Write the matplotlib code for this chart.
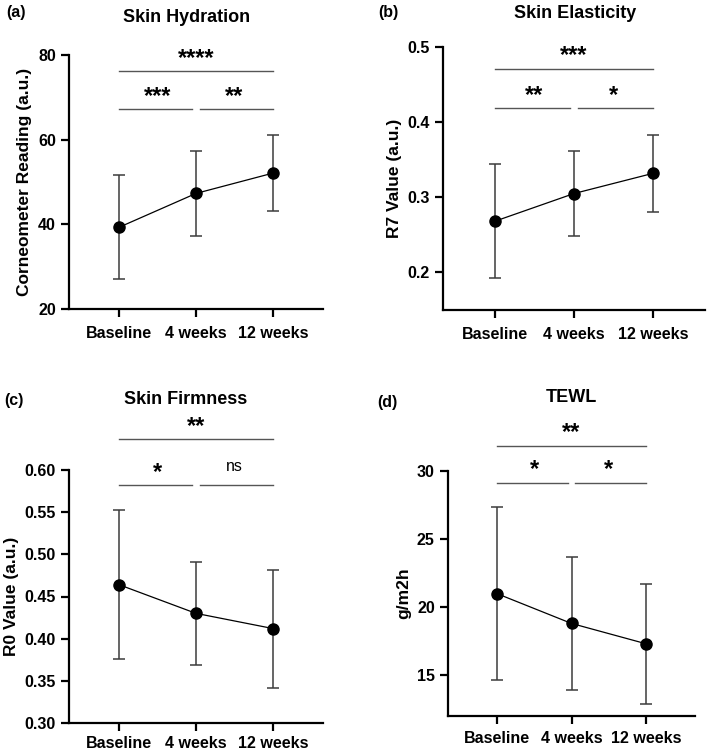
import numpy as np
import matplotlib
matplotlib.use("Agg")
import matplotlib.pyplot as plt

plt.rcParams["font.family"] = ["Liberation Sans", "DejaVu Sans"]

groups = ["Baseline", "4 weeks", "12 weeks"]

titles = ["Skin Hydration", "Skin Elasticity", "Skin Firmness", "TEWL"]
panel_labels = ["(a)", "(b)", "(c)", "(d)"]
ylabels = ["Corneometer Reading (a.u.)", "R7 Value (a.u.)", "R0 Value (a.u.)", "g/m2h"]

hydration_mean = [39.3, 47.3, 52.1]
hydration_sd = [12.3, 10.1, 9.0]
elasticity_mean = [0.268, 0.305, 0.332]
elasticity_sd = [0.076, 0.056, 0.051]
firmness_mean = [0.464, 0.430, 0.412]
firmness_sd = [0.088, 0.061, 0.070]
tewl_mean = [21.0, 18.8, 17.3]
tewl_sd = [6.35, 4.9, 4.4]

# significance labels: (start, end, label)
hydration_sig = [(0, 2, "****"), (0, 1, "***"), (1, 2, "**")]
elasticity_sig = [(0, 2, "***"), (0, 1, "**"), (1, 2, "*")]
firmness_sig = [(0, 2, "**"), (0, 1, "*"), (1, 2, "ns")]
tewl_sig = [(0, 2, "**"), (0, 1, "*"), (1, 2, "*")]

# bracket heights (data units): top bracket, lower brackets
hydration_bh = [76.2, 67.2]
elasticity_bh = [0.471, 0.419]
firmness_bh = [0.637, 0.582]
tewl_bh = [31.86, 29.14]

ylims = [(20, 80), (0.15, 0.5), (0.30, 0.60), (12, 30)]
yticks = [[20, 40, 60, 80], [0.2, 0.3, 0.4, 0.5],
          [0.30, 0.35, 0.40, 0.45, 0.50, 0.55, 0.60], [15, 20, 25, 30]]
yfmt = ["{:.0f}", "{:.1f}", "{:.2f}", "{:.0f}"]

means = [hydration_mean, elasticity_mean, firmness_mean, tewl_mean]
sds = [hydration_sd, elasticity_sd, firmness_sd, tewl_sd]
sigs = [hydration_sig, elasticity_sig, firmness_sig, tewl_sig]
bhs = [hydration_bh, elasticity_bh, firmness_bh, tewl_bh]

W, H = 709, 753
# axes rect in pixels: left, top, right, bottom
rects = [(69, 55, 323, 309), (443, 47, 705, 310),
         (69, 470, 323, 723), (448, 471, 695, 716)]
title_pos = [(187, 17), (575, 14), (186, 399), (571, 398)]
label_pos = [(6, 12), (378, 12), (4, 401), (377, 403)]
xpads = [6, 6, 3.5, 4.5]

fig = plt.figure(figsize=(W / 100, H / 100), dpi=100)

x = np.arange(len(groups))
for i in range(4):
    l, t, r, b = rects[i]
    ax = fig.add_axes([l / W, 1 - b / H, (r - l) / W, (b - t) / H])
    ax.errorbar(x, means[i], yerr=sds[i], fmt="none", ecolor="#3c3c3c",
                elinewidth=1.1, capsize=4.5, capthick=1.1, zorder=2)
    ax.plot(x, means[i], color="black", lw=0.9, marker="o", ms=8, zorder=3)
    ax.set_xlim(-0.65, 2.65)
    ax.set_ylim(*ylims[i])
    ax.set_yticks(yticks[i])
    ax.set_yticklabels([yfmt[i].format(v) for v in yticks[i]])
    ax.set_xticks(x)
    ax.set_xticklabels(groups)
    for s in ["top", "right"]:
        ax.spines[s].set_visible(False)
    for s in ["left", "bottom"]:
        ax.spines[s].set_linewidth(1.6)
    ax.tick_params(axis="both", width=1.6, length=6, labelsize=11.5)
    ax.tick_params(axis="x", pad=xpads[i])
    for lab in ax.get_xticklabels() + ax.get_yticklabels():
        lab.set_fontweight("bold")
    ax.set_ylabel(ylabels[i], fontsize=12.5, fontweight="bold", labelpad=4)

    span = ylims[i][1] - ylims[i][0]
    for j, (s0, s1, txt) in enumerate(sigs[i]):
        yb = bhs[i][0] if j == 0 else bhs[i][1]
        gap = 0.0 if j == 0 else 0.05
        x0 = s0 + (gap if s0 == 1 else 0)
        x1 = s1 - (gap if s1 == 1 else 0)
        ax.plot([x0, x1], [yb, yb], color="#555555", lw=1.0, clip_on=False)
        if txt == "ns":
            ax.text((s0 + s1) / 2, yb + span * 0.045, txt, ha="center",
                    va="bottom", fontsize=11.5, clip_on=False)
        else:
            ax.text((s0 + s1) / 2, yb + span * 0.005, txt, ha="center",
                    va="bottom", fontsize=17, fontweight="bold", clip_on=False)

    tx, ty = title_pos[i]
    fig.text(tx / W, 1 - ty / H, titles[i], ha="center", va="center",
             fontsize=13, fontweight="bold")
    px, py = label_pos[i]
    fig.text(px / W, 1 - py / H, panel_labels[i], ha="left", va="center",
             fontsize=11.5, fontweight="bold")

fig.savefig("out.png", dpi=100)
